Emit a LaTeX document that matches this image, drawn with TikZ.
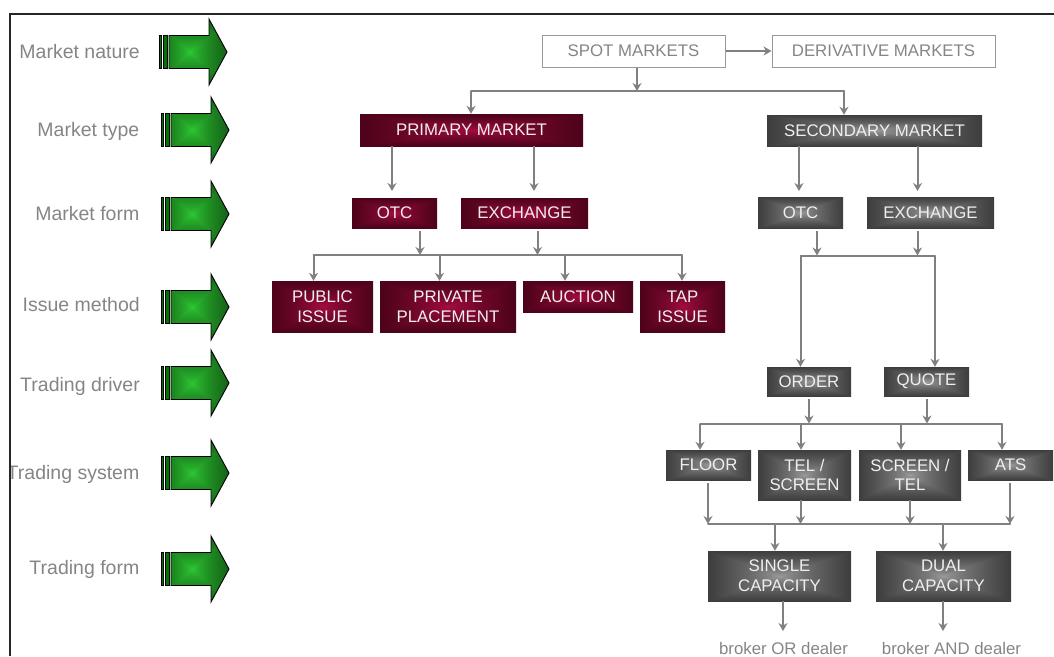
\documentclass[tikz,border=0pt]{standalone}
\usepackage{fontspec}
\setmainfont{Liberation Sans}
\usetikzlibrary{arrows.meta}
\pgfdeclarefunctionalshading{maroonbox}{\pgfpoint{-50bp}{-50bp}}{\pgfpoint{50bp}{50bp}}{}{
 abs exch abs 2 copy lt {exch} if pop 25 div 0.7 exp
 dup -0.36 mul 0.66 add exch dup -0.04 mul 0.05 add exch -0.16 mul 0.26 add }
\pgfdeclarefunctionalshading{greybox}{\pgfpoint{-50bp}{-50bp}}{\pgfpoint{50bp}{50bp}}{}{
 abs exch abs 2 copy lt {exch} if pop 25 div 0.7 exp
 dup -0.38 mul 0.62 add exch dup -0.38 mul 0.62 add exch -0.38 mul 0.62 add }
\pgfdeclarefunctionalshading{greenbox}{\pgfpoint{-50bp}{-50bp}}{\pgfpoint{50bp}{50bp}}{}{
 abs exch abs 2 copy lt {exch} if pop 25 div 0.7 exp
 dup -0.10 mul 0.18 add exch dup -0.42 mul 0.80 add exch -0.11 mul 0.20 add }
\definecolor{linegrey}{HTML}{808080}
\definecolor{labelgrey}{HTML}{858585}
\definecolor{boxtext}{HTML}{F2EEEE}
\newcommand{\fs}{\fontsize{16.8}{19.6}\selectfont}
\tikzset{
 x=1pt,y=-1pt,
 basebox/.style={rectangle,inner sep=0pt,align=center,font=\fs,text=boxtext},
 maroon/.style={basebox,shading=maroonbox},
 grey/.style={basebox,shading=greybox},
 plain/.style={basebox,draw=linegrey!80,line width=1pt,text=labelgrey},
 rowlabel/.style={font=\fontsize{19.5}{22}\selectfont,text=labelgrey,inner sep=0pt,anchor=base east},
 note/.style={font=\fs,text=labelgrey,inner sep=0pt,anchor=base},
 conn/.style={draw=linegrey,line width=2pt,-{Stealth[length=8pt,width=9pt]}},
 bus/.style={draw=linegrey,line width=2pt,line cap=round},
}
\newcommand{\greenarrow}[2]{%
 \begin{scope}[shift={(#1,#2)}]
 \begin{scope}
 \clip (10,-16.5)--(50,-16.5)--(50,-33)--(68,0)--(50,33)--(50,16.5)--(10,16.5)--cycle;
 \path[shading=greenbox] (-6,-33) rectangle (68,33);
 \end{scope}
 \draw[black,line width=.9pt,line join=miter] (10,-16.5)--(50,-16.5)--(50,-33)--(68,0)--(50,33)--(50,16.5)--(10,16.5)--cycle;
 \draw[black,fill=green!45!black,line width=.9pt] (0.5,-16.5) rectangle (2.8,16.5);
 \draw[black,fill=green!45!black,line width=.9pt] (4.5,-16.5) rectangle (8.3,16.5);
 \end{scope}}
\begin{document}
\begin{tikzpicture}
\useasboundingbox (0,0) rectangle (1054,656);
% row labels
\node[rowlabel] (l1) at (140,58) {Market nature};
\node[rowlabel] (l2) at (139.5,136.5) {Market type};
\node[rowlabel] (l3) at (139.5,220.5) {Market form};
\node[rowlabel] (l4) at (140,311.5) {Issue method};
\node[rowlabel] (l5) at (140,391.5) {Trading driver};
\node[rowlabel] (l6) at (139.5,479) {Trading system};
\node[rowlabel] (l7) at (139.5,574) {Trading form};
% frame
\fill[white] (0,14) rectangle (9.5,656);
\draw[black!85,line width=1.2pt] (10,656)--(10,14)--(1054,14);
% green arrows
\greenarrow{159}{52}
\greenarrow{161}{130}
\greenarrow{161}{214}
\greenarrow{161}{307}
\greenarrow{161}{383}
\greenarrow{161}{473}
\greenarrow{161}{569}
% nodes
\node[plain,minimum width=183pt,minimum height=32pt] (spot) at (633.5,51) {SPOT MARKETS};
\node[plain,minimum width=223pt,minimum height=32pt] (deriv) at (883.5,51) {DERIVATIVE MARKETS};
\node[maroon,minimum width=223pt,minimum height=32pt] (prim) at (471.5,130) {PRIMARY MARKET};
\node[grey,minimum width=215pt,minimum height=31pt] (sec) at (874.5,130.5) {SECONDARY MARKET};
\node[maroon,minimum width=85pt,minimum height=30pt] (otcp) at (394.5,213) {OTC};
\node[maroon,minimum width=127pt,minimum height=30pt] (exp) at (524.5,213) {EXCHANGE};
\node[grey,minimum width=85pt,minimum height=31pt] (otcs) at (800.5,212.5) {OTC};
\node[grey,minimum width=127pt,minimum height=31pt] (exs) at (930.5,212.5) {EXCHANGE};
\node[maroon,minimum width=101pt,minimum height=51pt] (pub) at (322.5,306.5) {PUBLIC\\ISSUE};
\node[maroon,minimum width=136pt,minimum height=51pt] (priv) at (448,306.5) {PRIVATE\\PLACEMENT};
\node[maroon,minimum width=110pt,minimum height=31pt] (auc) at (578,296.5) {AUCTION};
\node[maroon,minimum width=85pt,minimum height=51pt] (tap) at (682.5,306.5) {TAP\\ISSUE};
\node[grey,minimum width=84pt,minimum height=29pt] (order) at (809,381.5) {ORDER};
\node[grey,minimum width=85pt,minimum height=29pt] (quote) at (926.5,381.5) {QUOTE};
\node[grey,minimum width=85pt,minimum height=30pt] (floor) at (708.5,465) {FLOOR};
\node[grey,minimum width=93pt,minimum height=50pt] (tel) at (804.5,475) {TEL /\\SCREEN};
\node[grey,minimum width=102pt,minimum height=50pt] (screen) at (910,475) {SCREEN /\\TEL};
\node[grey,minimum width=85pt,minimum height=30pt] (ats) at (1010.5,465) {ATS};
\node[grey,minimum width=143pt,minimum height=50pt] (single) at (779.5,576) {SINGLE\\CAPACITY};
\node[grey,minimum width=135pt,minimum height=50pt] (dual) at (943.5,576) {DUAL\\CAPACITY};
\node[note] (broker1) at (783.5,654.5) {broker OR dealer};
\node[note] (broker2) at (951.5,654.5) {broker AND dealer};
% junction coordinates
\coordinate (j1) at (637,91);
\coordinate (j1l) at (471,91);
\coordinate (j1r) at (844,91);
\coordinate (j2) at (420,255);
\coordinate (j3) at (537.5,255);
\coordinate (j2l) at (313.5,255);
\coordinate (j2a) at (439.5,255);
\coordinate (j2b) at (565,255);
\coordinate (j2r) at (682,255);
\coordinate (j4) at (817,255.5);
\coordinate (j5) at (935,255.5);
\coordinate (j4l) at (800.5,255.5);
\coordinate (j6) at (809,423.5);
\coordinate (j7) at (927,423.5);
\coordinate (j6l) at (700,423.5);
\coordinate (j6a) at (801,423.5);
\coordinate (j6b) at (901,423.5);
\coordinate (j6r) at (1002,423.5);
\coordinate (j8) at (708,524);
\coordinate (j8a) at (800.5,524);
\coordinate (j8b) at (910,524);
\coordinate (j8r) at (1010,524);
\coordinate (j9) at (775,524);
\coordinate (j10) at (943,524);
\coordinate (t1) at (783,631);
\coordinate (t2) at (943,631);
\coordinate (p1) at (392,191);
\coordinate (p2) at (534,191);
\coordinate (s1) at (799,191);
\coordinate (s2) at (917.5,191);
% buses
\draw[bus] (j1l)--(j1r);
\draw[bus] (j2l)--(j2r);
\draw[bus] (j4l)--(j5);
\draw[bus] (j6l)--(j6r);
\draw[bus] (j8)--(j8r);
% connectors
\draw[conn] (spot.east)--(deriv.west);
\draw[conn] (spot.south -| j1)--(j1);
\draw[conn] (j1l)--(j1l |- prim.north);
\draw[conn] (j1r)--(j1r |- sec.north);
\draw[conn] (prim.south -| p1)--(p1);
\draw[conn] (prim.south -| p2)--(p2);
\draw[conn] (sec.south -| s1)--(s1);
\draw[conn] (sec.south -| s2)--(s2);
\draw[conn,shorten <=3pt] (otcp.south -| j2)--(j2);
\draw[conn,shorten <=3pt] (exp.south -| j3)--(j3);
\draw[conn,shorten <=3pt] (otcs.south -| j4)--(j4);
\draw[conn,shorten <=3pt] (exs.south -| s2)--(s2 |- j4);
\draw[conn] (j2l)--(j2l |- pub.north);
\draw[conn] (j2a)--(j2a |- priv.north);
\draw[conn] (j2b)--(j2b |- auc.north);
\draw[conn] (j2r)--(j2r |- tap.north);
\draw[conn] (j4l)--(j4l |- order.north);
\draw[conn] (j5)--(j5 |- quote.north);
\draw[conn,shorten <=3pt] (order.south -| j6)--(j6);
\draw[conn,shorten <=3pt] (quote.south -| j7)--(j7);
\draw[conn] (j6l)--(j6l |- floor.north);
\draw[conn] (j6a)--(j6a |- tel.north);
\draw[conn] (j6b)--(j6b |- screen.north);
\draw[conn] (j6r)--(j6r |- ats.north);
\draw[conn,shorten <=3pt] (floor.south -| j8)--(j8);
\draw[conn] (tel.south -| j8a)--(j8a);
\draw[conn] (screen.south -| j8b)--(j8b);
\draw[conn,shorten <=3pt] (ats.south -| j8r)--(j8r);
\draw[conn] (j9)--(j9 |- single.north);
\draw[conn] (j10)--(j10 |- dual.north);
\draw[conn] (single.south -| t1)--(t1);
\draw[conn] (dual.south -| t2)--(t2);
\end{tikzpicture}
\end{document}
